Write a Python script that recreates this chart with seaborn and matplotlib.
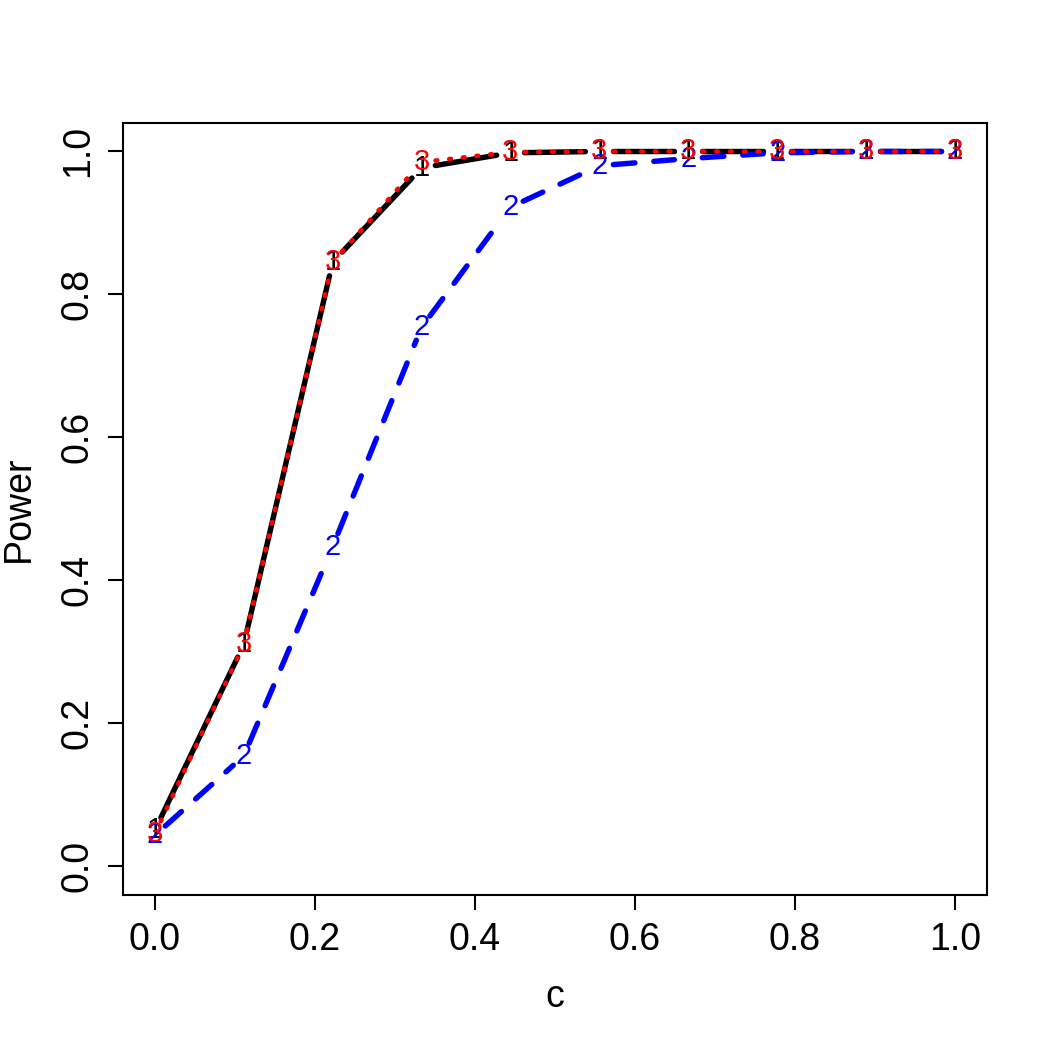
import numpy as np
import pandas as pd
import seaborn as sns
import matplotlib.pyplot as plt

# values (matplot, type = "b")
c_vals = [0.0, 1/9, 2/9, 3/9, 4/9, 5/9, 6/9, 7/9, 8/9, 1.0]
power1 = [0.05, 0.31, 0.845, 0.977, 0.998, 1.0, 1.0, 1.0, 1.0, 1.0]
power2 = [0.043, 0.154, 0.447, 0.754, 0.922, 0.98, 0.99, 0.998, 1.0, 1.0]
power3 = [0.045, 0.31, 0.845, 0.985, 0.999, 1.0, 1.0, 1.0, 1.0, 1.0]

series = {"1": power1, "2": power2, "3": power3}
colors = {"1": "black", "2": "blue", "3": "red"}
dashes = {"1": (None, None), "2": (4, 3.5), "3": (0.4, 2.6)}

sns.set_style("ticks")
plt.rcParams["font.family"] = ["Liberation Sans", "DejaVu Sans"]
plt.rcParams["text.color"] = "black"
plt.rcParams["xtick.color"] = "black"
plt.rcParams["ytick.color"] = "black"
plt.rcParams["axes.labelcolor"] = "black"

fig = plt.figure(figsize=(7, 7), dpi=150)
ax = fig.add_axes([0.117, 0.148, 0.823, 0.735])
ax.set_xlim(-0.04, 1.04)
ax.set_ylim(-0.04, 1.04)
ax.autoscale(False)

# lines with small gaps around the plotted characters, like R type "b"
fig.canvas.draw()
gap = 14  # pixels
for key, vals in series.items():
    pts = ax.transData.transform(np.column_stack([c_vals, vals]))
    inv = ax.transData.inverted()
    for i in range(len(pts) - 1):
        p0, p1 = pts[i], pts[i + 1]
        d = p1 - p0
        L = np.hypot(*d)
        if L <= 2 * gap:
            continue
        a = p0 + d * gap / L
        b = p1 - d * gap / L
        seg = inv.transform(np.vstack([a, b]))
        seg_df = pd.DataFrame({"c": seg[:, 0], "p": seg[:, 1]})
        ls = "-" if key == "1" else (0, dashes[key])
        sns.lineplot(data=seg_df, x="c", y="p", ax=ax, color=colors[key],
                     lw=2.6 if key != "3" else 2.2, linestyle=ls,
                     dash_capstyle="round", solid_capstyle="round",
                     sort=False, estimator=None)

ax.set_xlim(-0.04, 1.04)
ax.set_ylim(-0.04, 1.04)

for key, vals in series.items():
    for x, y in zip(c_vals, vals):
        ax.text(x, y, key, color=colors[key], fontsize=14,
                ha="center", va="center")

ax.set_xticks([0, 0.2, 0.4, 0.6, 0.8, 1.0])
ax.set_xticklabels(["0.0", "0.2", "0.4", "0.6", "0.8", "1.0"])
ax.set_yticks([0, 0.2, 0.4, 0.6, 0.8, 1.0])
ax.set_yticklabels(["0.0", "0.2", "0.4", "0.6", "0.8", "1.0"],
                   rotation=90, va="center")
ax.tick_params(labelsize=18, length=7, width=1, pad=6, colors="black")
ax.set_xlabel("c", fontsize=18, labelpad=10)
ax.set_ylabel("Power", fontsize=18, labelpad=11)
for s in ax.spines.values():
    s.set_visible(True)
    s.set_linewidth(1)
    s.set_color("black")
ax.grid(False)

fig.savefig("out.png", dpi=150)
